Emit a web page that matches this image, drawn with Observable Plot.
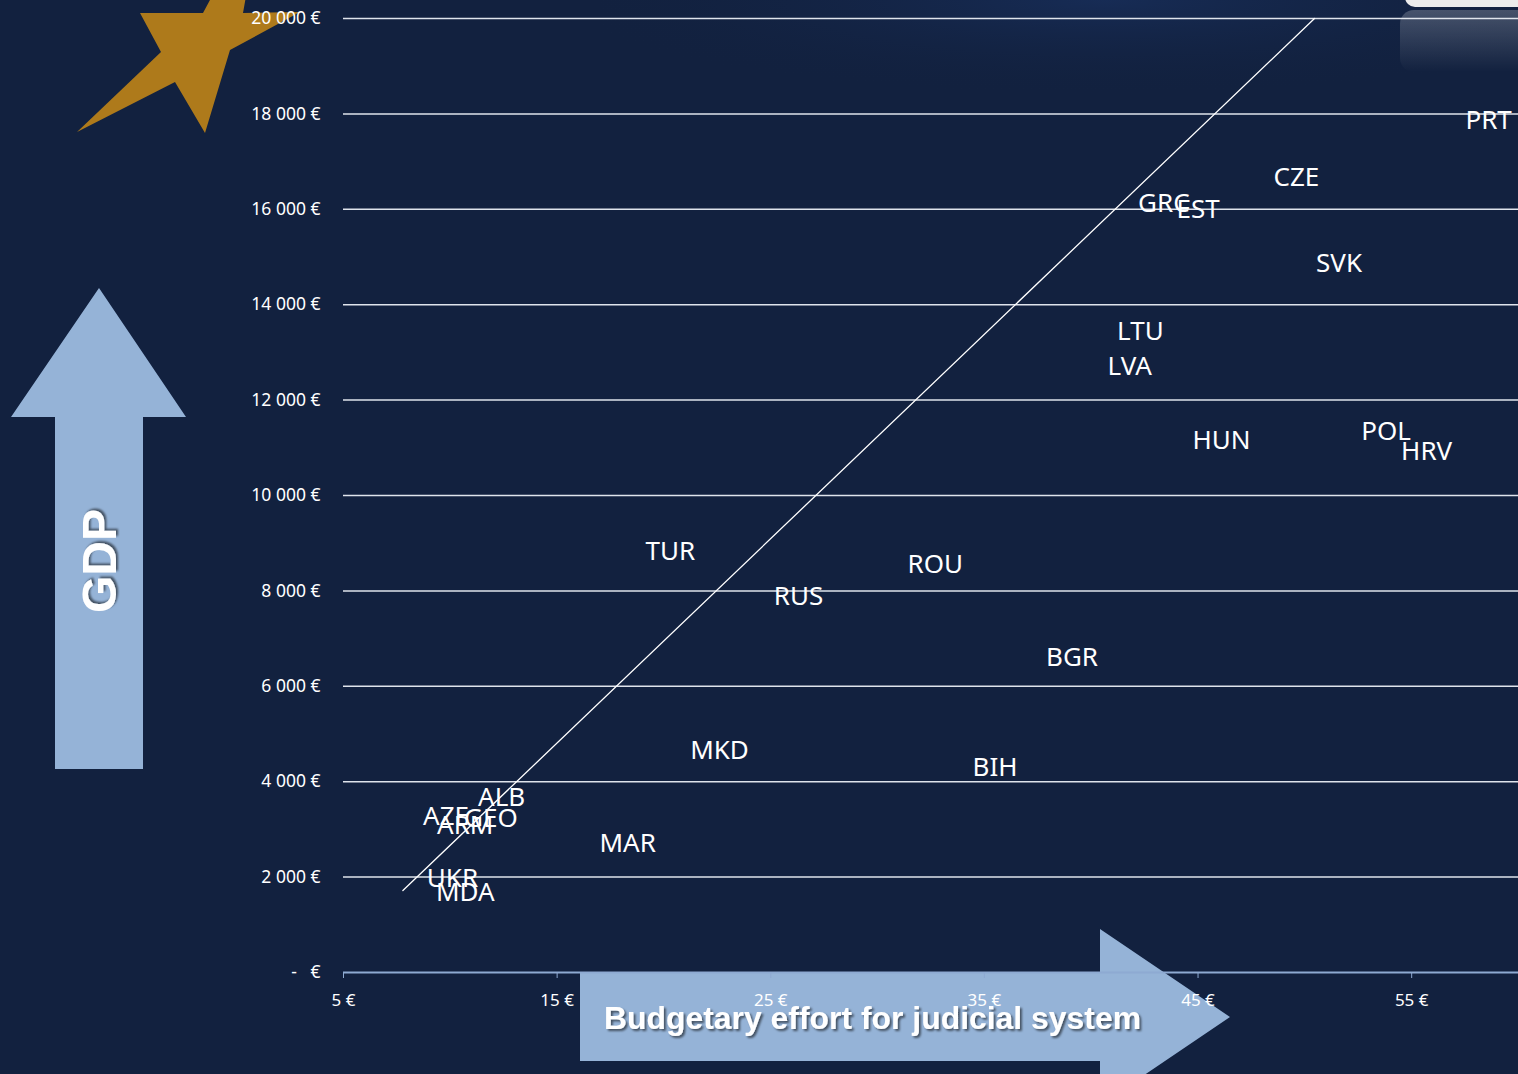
<!DOCTYPE html>
<html>
<head>
<meta charset="utf-8">
<script src="https://cdn.jsdelivr.net/npm/d3@7"></script>
<script src="https://cdn.jsdelivr.net/npm/@observablehq/plot@0.6"></script>
<style>
  html, body { margin: 0; padding: 0; background: #12213f; }
  #wrap { position: relative; width: 1518px; height: 1074px; overflow: hidden; background: #12213f; }
  #deco { position: absolute; left: 0; top: 0; }
  #chart { position: absolute; left: 0; top: 0; }
  #chart svg { display: block; }
</style>
</head>
<body>
<div id="wrap">
  <svg id="deco" width="1518" height="1074">
    <defs>
      <filter id="sh" x="-20%" y="-20%" width="140%" height="140%">
        <feDropShadow dx="2" dy="2" stdDeviation="1.2" flood-color="#000" flood-opacity="0.55"/>
      </filter>
      <linearGradient id="glass" x1="0" y1="0" x2="0" y2="1">
        <stop offset="0" stop-color="#ffffff" stop-opacity="0.22"/>
        <stop offset="1" stop-color="#ffffff" stop-opacity="0"/>
      </linearGradient>
      <radialGradient id="glow" cx="0.55" cy="0" r="0.6">
        <stop offset="0" stop-color="#1a3364" stop-opacity="0.6"/>
        <stop offset="1" stop-color="#12213f" stop-opacity="0"/>
      </radialGradient>
    </defs>
    <rect x="600" y="0" width="918" height="160" fill="url(#glow)"/>
    <!-- top-right slide elements -->
    <rect x="1400" y="10" width="140" height="62" rx="14" fill="url(#glass)"/>
    <rect x="1405" y="-20" width="140" height="27" rx="10" fill="#ececec"/>
    <!-- star -->
    <polygon points="140,13 203,13 218,-15 248,-15 243,13 300,12 230,50 205,133 175,82 77,132 161,52" fill="#ae7a1b"/>
    <!-- GDP arrow -->
    <polygon points="99,288 186,417 143,417 143,769 55,769 55,417 11,417" fill="#95b3d7"/>
    <text x="0" y="0" transform="translate(116,561) rotate(-90)" text-anchor="middle" font-family="'Liberation Sans', Arial, sans-serif" font-weight="bold" font-size="48" fill="#ffffff" filter="url(#sh)">GDP</text>
    <!-- Budget arrow -->
    <polygon points="580,973 1100,973 1100,929 1230,1017 1100,1105 1100,1061 580,1061" fill="#95b3d7"/>
    <text x="604" y="1029" font-family="'Liberation Sans', Arial, sans-serif" font-weight="bold" font-size="31.5" fill="#ffffff" filter="url(#sh)" textLength="537" lengthAdjust="spacingAndGlyphs">Budgetary effort for judicial system</text>
  </svg>
  <div id="chart"></div>
</div>
<script>
// ---- data ----
const countries = ["PRT","CZE","GRC","EST","SVK","LTU","LVA","HUN","POL","HRV","TUR","ROU","RUS","BGR","MKD","BIH","ALB","AZE","GEO","ARM","MAR","UKR","MDA"];
const budget    = [58.6, 49.6, 43.4, 45.0, 51.6, 42.3, 41.8, 46.1, 53.8, 55.7, 20.3, 32.7, 26.3, 39.1, 22.6, 35.5, 12.4, 9.8, 11.9, 10.7, 18.3, 10.1, 10.7];
const gdp       = [17860, 16660, 16120, 15990, 14860, 13440, 12700, 11150, 11330, 10910, 8820, 8550, 7880, 6600, 4650, 4300, 3675, 3270, 3230, 3080, 2700, 1970, 1680];

const trendBudget = [7.78, 50.45];
const trendGdp    = [1720, 20000];

const yTicks      = [0, 2000, 4000, 6000, 8000, 10000, 12000, 14000, 16000, 18000, 20000];
const yTickLabels = ["-\u00a0\u00a0\u00a0€", "2 000 €", "4 000 €", "6 000 €", "8 000 €", "10 000 €", "12 000 €", "14 000 €", "16 000 €", "18 000 €", "20 000 €"];
const xTicks      = [5, 15, 25, 35, 45, 55];
const xTickLabels = ["5 €", "15 €", "25 €", "35 €", "45 €", "55 €"];

// ---- tables built from arrays ----
const points = countries.map((c, i) => ({country: c, budget: budget[i], gdp: gdp[i]}));
const trend = trendBudget.map((b, i) => ({budget: b, gdp: trendGdp[i]}));
const yLab = new Map(yTicks.map((t, i) => [t, yTickLabels[i]]));
const xLab = new Map(xTicks.map((t, i) => [t, xTickLabels[i]]));

const font = "'Noto Sans', 'Open Sans', sans-serif";

const chart = Plot.plot({
  width: 1518,
  height: 1074,
  marginLeft: 343,
  marginRight: 0,
  marginTop: 18,
  marginBottom: 102,
  x: {domain: [5, 60], label: null},
  y: {domain: [0, 20000], label: null},
  style: {background: "transparent", color: "white", fontFamily: font, overflow: "visible"},
  marks: [
    Plot.gridY(yTicks.filter(d => d > 0), {stroke: "#dfe4ec", strokeOpacity: 1, strokeWidth: 1.5}),
    Plot.ruleY([0], {stroke: "#8eaad2", strokeWidth: 2}),
    Plot.axisY(yTicks, {tickSize: 0, tickPadding: 23, tickFormat: d => yLab.get(d), fontSize: 17.5, fill: "white", label: null}),
    Plot.axisX(xTicks, {tickSize: 6, tickPadding: 15, stroke: "#8eaad2", tickFormat: d => xLab.get(d), fontSize: 17, fill: "white", label: null}),
    Plot.line(trend, {x: "budget", y: "gdp", stroke: "white", strokeWidth: 1.3}),
    Plot.text(points, {x: "budget", y: "gdp", text: "country", fill: "white", fontSize: 26})
  ]
});
document.getElementById("chart").appendChild(chart);
</script>
</body>
</html>
